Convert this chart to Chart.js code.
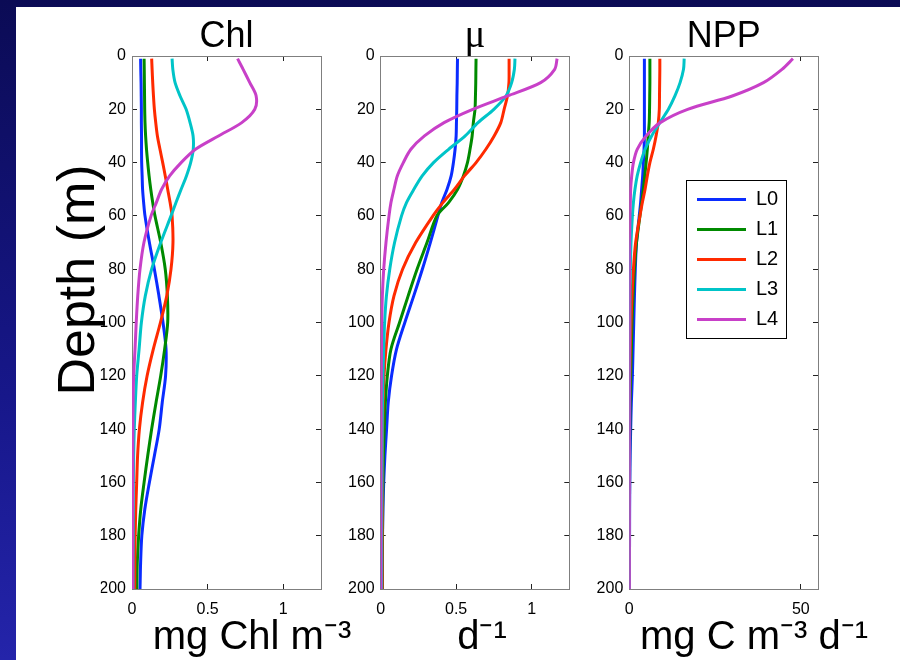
<!DOCTYPE html>
<html lang="en">
<head>
<meta charset="UTF-8">
<title>Chl, mu and NPP profiles</title>
<script src="https://cdn.jsdelivr.net/npm/chart.js"></script>
<style>
  html, body { margin: 0; padding: 0; width: 900px; height: 660px; overflow: hidden; }
  body { position: relative; background: linear-gradient(to bottom, #0b0b55 0%, #17178a 60%, #2424aa 100%); }
  #sheet { position: absolute; left: 16px; top: 7px; width: 884px; height: 653px; background: #fff; }
  canvas { position: absolute; }
  #legendBox { position: absolute; left: 686px; top: 180px; width: 99px; height: 157px; border: 1px solid #000; background: #fff; overflow: hidden; }
</style>
</head>
<body>
<div id="sheet"></div>
<canvas id="chlChart" width="444" height="760" style="left:30px; top:-100px;"></canvas>
<canvas id="muChart" width="284" height="760" style="left:340px; top:-100px;"></canvas>
<canvas id="nppChart" width="324" height="760" style="left:592px; top:-100px;"></canvas>
<div id="legendBox"><canvas id="legendCanvas" width="99" height="167" style="left:0; top:-5px;"></canvas></div>

<script>
// depth levels (m), shared by every profile
const depths = [1, 5, 10, 15, 20, 25, 30, 35, 40, 45, 50, 55, 60, 70, 80, 90, 100, 110, 120, 130, 140, 150, 160, 170, 180, 190, 200];

const seriesNames = ['L0', 'L1', 'L2', 'L3', 'L4'];
const seriesColors = ['#0a2cff', '#008a00', '#ff2a00', '#00c4c8', '#c840c8'];

// Chl (mg Chl m-3)
const chlL0 = [0.057, 0.058, 0.060, 0.061, 0.062, 0.062, 0.063, 0.063, 0.064, 0.067, 0.070, 0.077, 0.086, 0.115, 0.148, 0.178, 0.205, 0.225, 0.222, 0.200, 0.180, 0.148, 0.115, 0.085, 0.065, 0.057, 0.053];
const chlL1 = [0.080, 0.081, 0.082, 0.083, 0.084, 0.086, 0.090, 0.096, 0.104, 0.113, 0.124, 0.137, 0.152, 0.190, 0.220, 0.234, 0.236, 0.216, 0.190, 0.159, 0.130, 0.104, 0.080, 0.058, 0.044, 0.035, 0.032];
const chlL2 = [0.130, 0.133, 0.137, 0.142, 0.148, 0.157, 0.168, 0.185, 0.203, 0.220, 0.236, 0.252, 0.265, 0.271, 0.258, 0.230, 0.188, 0.141, 0.100, 0.070, 0.049, 0.037, 0.031, 0.025, 0.021, 0.019, 0.018];
const chlL3 = [0.265, 0.270, 0.285, 0.318, 0.358, 0.384, 0.404, 0.405, 0.388, 0.360, 0.325, 0.291, 0.258, 0.190, 0.130, 0.088, 0.062, 0.047, 0.031, 0.022, 0.015, 0.011, 0.009, 0.008, 0.008, 0.007, 0.007];
const chlL4 = [0.698, 0.735, 0.779, 0.821, 0.812, 0.726, 0.572, 0.420, 0.325, 0.249, 0.196, 0.161, 0.126, 0.079, 0.053, 0.038, 0.028, 0.020, 0.011, 0.007, 0.006, 0.005, 0.005, 0.004, 0.004, 0.004, 0.004];

// mu (d-1)
const muL0 = [0.509, 0.508, 0.507, 0.505, 0.504, 0.502, 0.500, 0.493, 0.482, 0.467, 0.440, 0.405, 0.379, 0.329, 0.276, 0.219, 0.160, 0.105, 0.072, 0.050, 0.039, 0.028, 0.020, 0.015, 0.012, 0.010, 0.009];
const muL1 = [0.632, 0.631, 0.630, 0.628, 0.625, 0.614, 0.606, 0.592, 0.575, 0.548, 0.510, 0.450, 0.372, 0.307, 0.241, 0.182, 0.125, 0.068, 0.044, 0.031, 0.024, 0.018, 0.015, 0.013, 0.012, 0.011, 0.011];
const muL2 = [0.851, 0.851, 0.850, 0.840, 0.818, 0.796, 0.752, 0.697, 0.632, 0.555, 0.489, 0.412, 0.346, 0.232, 0.145, 0.088, 0.055, 0.035, 0.022, 0.016, 0.013, 0.011, 0.010, 0.010, 0.009, 0.009, 0.009];
const muL3 = [0.890, 0.886, 0.868, 0.830, 0.750, 0.645, 0.560, 0.450, 0.350, 0.275, 0.220, 0.171, 0.138, 0.092, 0.060, 0.038, 0.026, 0.020, 0.015, 0.012, 0.010, 0.009, 0.008, 0.007, 0.006, 0.006, 0.005];
const muL4 = [1.169, 1.153, 1.060, 0.840, 0.610, 0.420, 0.290, 0.200, 0.150, 0.110, 0.088, 0.068, 0.055, 0.035, 0.020, 0.011, 0.007, 0.005, 0.004, 0.003, 0.003, 0.002, 0.002, 0.002, 0.002, 0.002, 0.002];

// NPP (mg C m-3 d-1)
const nppL0 = [4.4, 4.4, 4.4, 4.4, 4.4, 4.4, 4.4, 4.3, 4.1, 3.9, 3.6, 3.3, 2.9, 2.1, 1.75, 1.5, 1.3, 1.1, 0.9, 0.6, 0.4, 0.25, 0.15, 0.1, 0.08, 0.06, 0.05];
const nppL1 = [6.0, 6.0, 6.0, 5.95, 5.9, 5.8, 5.5, 5.25, 4.9, 4.5, 4.1, 3.6, 3.1, 2.1, 1.5, 1.1, 0.8, 0.6, 0.4, 0.2, 0.15, 0.1, 0.08, 0.06, 0.05, 0.04, 0.04];
const nppL2 = [8.9, 8.9, 8.85, 8.8, 8.75, 8.45, 7.8, 7.0, 6.0, 5.25, 4.6, 3.8, 3.1, 1.85, 1.2, 0.8, 0.5, 0.3, 0.15, 0.1, 0.08, 0.06, 0.05, 0.04, 0.04, 0.03, 0.03];
const nppL3 = [16.0, 15.8, 14.8, 13.3, 11.4, 8.9, 6.5, 4.6, 3.3, 2.3, 1.65, 1.2, 0.9, 0.5, 0.3, 0.2, 0.15, 0.1, 0.08, 0.06, 0.05, 0.04, 0.03, 0.03, 0.02, 0.02, 0.02];
const nppL4 = [47.7, 44.5, 39.1, 30.0, 17.0, 9.0, 4.9, 2.3, 1.2, 0.7, 0.4, 0.3, 0.2, 0.1, 0.1, 0.05, 0.04, 0.03, 0.02, 0.02, 0.02, 0.01, 0.01, 0.01, 0.01, 0.01, 0.01];

const sans = '"Liberation Sans", Arial, Helvetica, sans-serif';
const serif = '"Liberation Serif", "Times New Roman", serif';
Chart.defaults.font.family = sans;
Chart.defaults.color = '#000';

function profileSets(seriesList) {
    return seriesList.map((vals, i) => ({
        label: seriesNames[i],
        data: depths.map((d, k) => ({ x: vals[k], y: d })),
        borderColor: seriesColors[i],
        backgroundColor: seriesColors[i],
        borderWidth: 3,
        pointRadius: 0,
        showLine: true,
        tension: 0.3,
        order: seriesList.length - i
    }));
}

const gridOpts = { drawOnChartArea: false, tickLength: -5, color: '#222', lineWidth: 1 };
const borderOpts = { display: true, color: '#7f7f7f', width: 1 };

// one depth-profile panel; sizes keep the plot boxes where the slide has them
function makePanel(id, p) {
    return new Chart(document.getElementById(id), {
        type: 'scatter',
        data: { datasets: profileSets(p.series) },
        options: {
            responsive: false,
            animation: false,
            devicePixelRatio: 1,
            events: [],
            layout: { padding: 0 },
            plugins: {
                legend: { display: false },
                tooltip: { enabled: false },
                title: p.depthTitle ? {
                    display: true, text: 'Depth (m)', position: 'left', fullSize: true,
                    font: { size: 52, weight: 'normal', lineHeight: 0.8 },
                    padding: { top: 29.2, bottom: 0 }, color: '#000'
                } : { display: false },
                subtitle: {
                    display: true, text: p.unit, position: 'bottom', fullSize: true,
                    font: { size: 40, weight: 'normal', lineHeight: 1 },
                    padding: { top: 0.8, bottom: 2.2 }, color: '#000'
                }
            },
            scales: {
                x: {
                    type: 'linear', position: 'bottom', min: 0, max: p.xMax,
                    afterFit: s => { s.height = 28; },
                    ticks: {
                        stepSize: p.step, includeBounds: false, padding: 16, maxRotation: 0,
                        font: { size: 16 }, color: '#000', callback: v => String(v)
                    },
                    grid: gridOpts, border: borderOpts
                },
                x2: {
                    type: 'linear', position: 'top', min: 0, max: p.xMax,
                    afterFit: s => { s.height = 156; },
                    ticks: { display: false, stepSize: p.step, includeBounds: false },
                    grid: gridOpts, border: borderOpts,
                    title: { display: true, text: p.title, color: '#000', font: p.titleFont, padding: { top: p.titlePad, bottom: 0 } }
                },
                y: {
                    type: 'linear', position: 'left', reverse: true, min: 0, max: 200,
                    afterFit: s => { s.width = p.yWidth; },
                    ticks: { stepSize: 20, padding: 11, font: { size: 16 }, color: '#000' },
                    grid: gridOpts, border: borderOpts
                },
                y2: {
                    type: 'linear', position: 'right', reverse: true, min: 0, max: 200,
                    afterFit: s => { s.width = p.y2Width; },
                    ticks: { display: false, stepSize: 20 },
                    grid: gridOpts, border: borderOpts
                }
            }
        }
    });
}

makePanel('chlChart', {
    series: [chlL0, chlL1, chlL2, chlL3, chlL4],
    xMax: 1.25, step: 0.5, title: 'Chl', unit: 'mg Chl m⁻³',
    titleFont: { family: sans, size: 36, weight: 'normal', lineHeight: 1 }, titlePad: 119,
    yWidth: 31.2, y2Width: 153, depthTitle: true
});

makePanel('muChart', {
    series: [muL0, muL1, muL2, muL3, muL4],
    xMax: 1.25, step: 0.5, title: 'μ', unit: 'd⁻¹',
    titleFont: { family: serif, size: 39, weight: 'normal', lineHeight: 1 }, titlePad: 117,
    yWidth: 40.7, y2Width: 54.7
});

makePanel('nppChart', {
    series: [nppL0, nppL1, nppL2, nppL3, nppL4],
    xMax: 55, step: 50, title: 'NPP', unit: 'mg C m⁻³ d⁻¹',
    titleFont: { family: sans, size: 36, weight: 'normal', lineHeight: 1 }, titlePad: 119,
    yWidth: 37.3, y2Width: 98
});

// legend box sitting inside the NPP panel
new Chart(document.getElementById('legendCanvas'), {
    type: 'line',
    data: {
        datasets: seriesNames.map((name, i) => ({
            label: name, data: [], borderColor: seriesColors[i], backgroundColor: seriesColors[i], borderWidth: 3
        }))
    },
    options: {
        responsive: false,
        animation: false,
        devicePixelRatio: 1,
        events: [],
        layout: { padding: 0 },
        scales: { x: { display: false }, y: { display: false } },
        plugins: {
            tooltip: { enabled: false },
            legend: {
                display: true, position: 'left', align: 'center', maxWidth: 99,
                labels: {
                    usePointStyle: true, pointStyle: 'line', pointStyleWidth: 49,
                    padding: 10, color: '#000', font: { size: 20 }
                }
            }
        }
    }
});
</script>
</body>
</html>
